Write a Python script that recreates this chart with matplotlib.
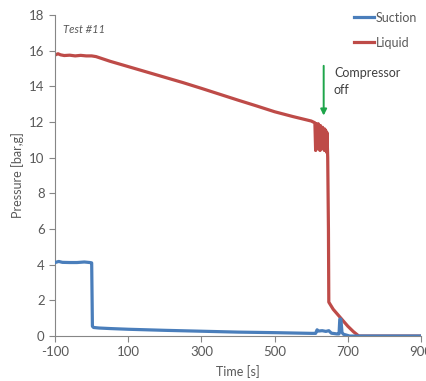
import matplotlib
matplotlib.use("Agg")
import matplotlib.pyplot as plt

# Liquid-line pressure [bar,g] over time [s]
liquid_t = [-100, -92, -85, -75, -60, -45, -30, -15, 0, 12, 50, 100, 150, 200, 250,
            300, 350, 400, 450, 500, 550, 580, 600, 610, 612, 613, 615, 616, 618, 619,
            621, 622, 624, 625, 627, 628, 630, 631, 633, 634, 636, 637, 639, 640, 642,
            643, 645, 647, 648, 660, 681, 700, 715, 730, 900]
liquid_p = [15.75, 15.82, 15.76, 15.72, 15.74, 15.70, 15.73, 15.70, 15.70, 15.66, 15.40,
            15.10, 14.80, 14.50, 14.20, 13.88, 13.55, 13.22, 12.90, 12.57, 12.30, 12.15,
            12.05, 11.95, 10.4, 11.9, 10.6, 11.8, 10.5, 11.9, 10.8, 11.7, 10.4, 11.8,
            10.9, 11.6, 10.5, 11.7, 10.6, 11.5, 10.4, 11.6, 10.8, 11.5, 10.3, 11.4,
            10.0, 6.0, 1.9, 1.5, 1.0, 0.55, 0.25, 0.0, 0.0]

# Suction-line pressure [bar,g] over time [s]
suction_t = [-100, -90, -80, -60, -40, -20, -5, 0, 2, 5, 20, 50, 100, 200, 300, 400,
             500, 600, 612, 616, 620, 630, 640, 648, 655, 670, 676, 678, 681, 684, 688,
             695, 705, 900]
suction_p = [4.12, 4.18, 4.13, 4.12, 4.12, 4.15, 4.12, 4.10, 0.55, 0.48, 0.45, 0.42,
             0.38, 0.32, 0.27, 0.22, 0.19, 0.15, 0.15, 0.35, 0.28, 0.30, 0.26, 0.30,
             0.16, 0.12, 0.12, 0.95, 0.95, 0.20, 0.10, 0.06, 0.0, 0.0]

x_ticks = [-100, 100, 300, 500, 700, 900]
y_ticks = list(range(0, 19, 2))

plt.rcParams["font.family"] = ["Lato", "DejaVu Sans"]
plt.rcParams["axes.unicode_minus"] = False
text_col = "#595959"
axis_col = "#868686"

fig = plt.figure(figsize=(4.27, 3.81), dpi=100)
ax = fig.add_axes([0.129, 0.118, 0.857, 0.843])

ax.plot(suction_t, suction_p, color="#4A7EBB", lw=2.3, label="Suction",
        solid_joinstyle="round", zorder=3)
ax.plot(liquid_t, liquid_p, color="#BE4B48", lw=2.3, label="Liquid",
        solid_joinstyle="round", zorder=2)

ax.set_xlim(-100, 900)
ax.set_ylim(0, 18)
ax.set_xticks(x_ticks)
ax.set_yticks(y_ticks)
ax.tick_params(colors=axis_col, labelcolor=text_col, labelsize=9.5, length=4,
               direction="out")
for side in ("top", "right"):
    ax.spines[side].set_visible(False)
for side in ("left", "bottom"):
    ax.spines[side].set_color(axis_col)
    ax.spines[side].set_linewidth(0.8)

ax.set_xlabel("Time [s]", color=text_col, fontsize=9, labelpad=5)
ax.set_ylabel("Pressure [bar,g]", color=text_col, fontsize=9, labelpad=4)

ax.text(-78, 17.2, "Test #11", style="italic", color=text_col, fontsize=8,
        va="center")

ax.annotate("", xy=(634, 12.2), xytext=(634, 15.3),
            arrowprops=dict(arrowstyle="-|>", color="#1EA54A", lw=1.4,
                            mutation_scale=9))
ax.text(662, 14.25, "Compressor\noff", color="#404040", fontsize=9,
        va="center", ha="left", linespacing=1.5)

leg = ax.legend(loc="upper right", bbox_to_anchor=(1.02, 1.045), frameon=False,
                handlelength=1.6, handletextpad=0.15, labelspacing=1.05,
                fontsize=9)
for t in leg.get_texts():
    t.set_color(text_col)

fig.savefig("out.png", dpi=100)
